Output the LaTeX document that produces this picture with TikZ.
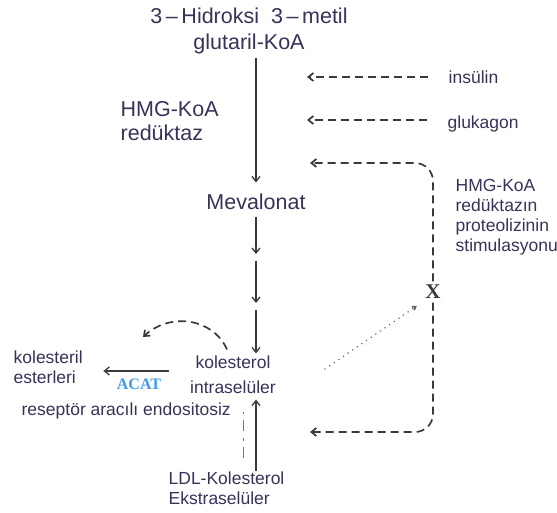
\documentclass[tikz,border=0pt]{standalone}
\usepackage{fontspec}
\setmainfont{Liberation Sans}
\newfontfamily\serifbold{Liberation Serif}
\usetikzlibrary{arrows.meta,positioning}
\definecolor{txt}{HTML}{3A3158}
\definecolor{acatblue}{HTML}{3D9BE8}
\definecolor{ln}{HTML}{3A3A3A}

\begin{document}
\begin{tikzpicture}[x=1pt,y=-1pt,>={Straight Barb[length=5pt,width=8pt]},line width=1.3pt]
  \tikzstyle{big}=[text=txt,font=\fontsize{21.5}{24}\selectfont,inner sep=0pt]
  \tikzstyle{small}=[text=txt,font=\fontsize{17.5}{20}\selectfont,align=left,inner sep=0pt]
  \tikzstyle{flow}=[->,draw=ln]
  \tikzstyle{reg}=[->,draw=ln,line width=1.7pt,dash pattern=on 8pt off 5pt]
  \useasboundingbox (0,0) rectangle (557,513);
  % main pathway
  \node[big,align=center,font=\fontsize{21.5}{26}\selectfont] (hmgcoa) at (249,31) {3\,–\,Hidroksi\ \ 3\,–\,metil\\glutaril-KoA};
  \node[big,align=left,anchor=west] (redk) at (120,121) {HMG-KoA\\redüktaz};
  \node[big] (mev) at (256,202) {Mevalonat};
  \node[small,align=center,font=\fontsize{17.5}{25}\selectfont] (kol) at (233,375) {kolesterol\\intraselüler};
  \node[small,anchor=west] (ester) at (13,367) {kolesteril\\esterleri};
  \node[text=acatblue,font=\serifbold\bfseries\fontsize{16}{18}\selectfont,inner sep=0pt] (acat) at (139,384) {ACAT};
  \node[small,anchor=west] (endo) at (21,411) {reseptör aracılı endositosiz};
  \node[small,anchor=west] (ldl) at (168,488) {LDL-Kolesterol\\Ekstraselüler};
  % regulation
  \node[small,anchor=west] (ins) at (448,77) {insülin};
  \node[small,anchor=west] (glu) at (447,124) {glukagon};
  \node[small,anchor=west] (prot) at (455,217) {HMG-KoA\\redüktazın\\proteolizinin\\stimulasyonu};
  \node[font=\serifbold\bfseries\fontsize{21}{22}\selectfont,text=ln,inner sep=3pt] (xmark) at (433,292) {X};
  \coordinate (s1) at (256,257.5);
  \coordinate (s2) at (256,306.5);
  \coordinate (rt) at (307,0);
  \coordinate (fbtop) at (310,163);
  \coordinate (fbbot) at (310,432);
  \coordinate (ce) at (143,337);
  \coordinate (dst) at (325,369);
  \coordinate (d1) at (243,458);
  \coordinate (d2) at (243,412);
  \draw[flow,shorten <=3pt,shorten >=11pt] (mev |- hmgcoa.south) -- (mev.north);
  \draw[flow,shorten <=6pt,shorten >=3.5pt] (mev.south) -- (s1);
  \draw[flow,shorten <=3.5pt,shorten >=3.5pt] (s1) -- (s2);
  \draw[flow,shorten <=3.5pt,shorten >=2pt] (s2) -- (s2 |- kol.north);
  \draw[flow,shorten >=5pt] (ldl.north -| s1) -- (s1 |- kol.south);
  \draw[flow,shorten <=21pt,shorten >=20pt] (kol.west |- ester) ++(0,4) -- (ester.east |- 0,371);
  \draw[reg] ([shift={(-6,-6)}]kol.north) .. controls (213,318) and (170,312) .. (ce);
  \draw[draw=ln!70,line width=1pt,dash pattern=on 11pt off 6pt on 3pt off 7pt] (d1) -- (d2);
  \draw[reg,shorten <=20pt] (ins.west) -- (ins.west -| rt);
  \draw[reg,shorten <=20pt] ([yshift=4pt]glu.west) -- ([yshift=4pt]glu.west -| rt);
  \draw[reg,rounded corners=18pt] (xmark.north) |- (fbtop);
  \draw[reg,rounded corners=18pt] (xmark.south) |- (fbbot);
  \draw[->,>={Straight Barb[length=3pt,width=4pt]},draw=ln!80,line cap=round,dash pattern=on 0.1pt off 5.5pt,line width=1.6pt,shorten >=6pt] (dst) -- (xmark.south west);
\end{tikzpicture}
\end{document}
